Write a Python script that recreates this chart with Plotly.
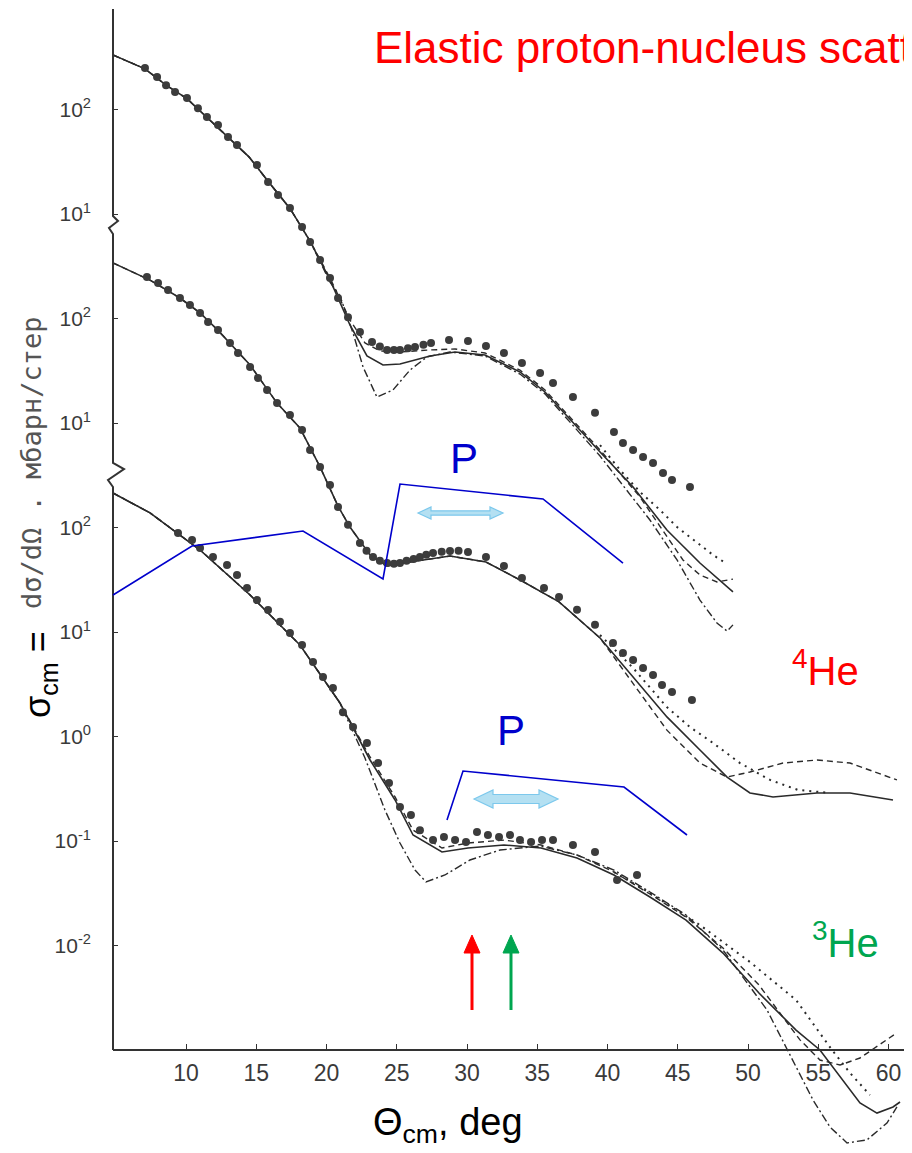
import plotly.graph_objects as go

# ---------------- data: theta_cm (deg), cross-section (mb/sr) -----------------
# three stacked sets; each is drawn shifted by a constant factor (broken axis)
TOP_SCALE = 1e4
MID_SCALE = 1e2
BOT_SCALE = 1.0

top_exp_theta = [7.08, 7.94, 8.58, 9.22, 10.07, 10.85, 11.49, 12.28, 12.99, 13.63, 15.05, 15.84, 16.55, 17.40, 18.26,
                 18.83, 19.54, 20.25, 20.82, 21.53, 22.38, 23.24, 23.80, 24.31, 24.80, 25.23, 25.80, 26.30, 26.90,
                 27.44, 28.72, 30.07, 31.35, 32.63, 33.91, 35.20, 36.12, 37.54, 39.11, 40.46, 41.10, 41.82, 42.53,
                 43.24, 43.95, 44.59, 45.87]
top_exp_sigma = [249, 205, 171, 147, 129, 103, 84.8, 71.1, 54.6, 45.7, 29.4, 20.2, 15.2, 11.4, 7.51,
                 5.40, 3.63, 2.44, 1.57, 1.03, 0.743, 0.596, 0.540, 0.500, 0.500, 0.500, 0.520, 0.533, 0.560,
                 0.583, 0.622, 0.610, 0.546, 0.468, 0.375, 0.301, 0.242, 0.177, 0.125, 0.082, 0.0644, 0.0552, 0.0473,
                 0.0414, 0.0333, 0.0285, 0.0244]

top_solid_theta = [4.80, 7.08, 8.58, 10.07, 11.49, 12.99, 14.50, 15.98, 17.40, 18.83, 20.25, 21.67, 22.88, 24.02,
                   25.23, 27.37, 29.15, 31.28, 33.77, 35.55, 37.69, 39.47, 41.82, 44.23, 46.58, 48.93]
top_solid_sigma = [333, 245, 171, 127, 84, 54, 35, 19.5, 11.3, 5.5, 2.34, 0.867, 0.438, 0.359,
                   0.367, 0.438, 0.478, 0.448, 0.308, 0.198, 0.0957, 0.0527, 0.0244, 0.00946, 0.00457, 0.00242]
top_dash_theta = [4.80, 7.08, 8.58, 10.07, 11.49, 12.99, 14.50, 15.98, 17.40, 18.83, 20.25, 21.67, 22.74, 23.81,
                  25.23, 27.37, 29.15, 31.28, 33.77, 35.55, 37.69, 39.47, 42.31, 45.37, 46.58, 47.79, 48.93]
top_dash_sigma = [333, 245, 171, 127, 84, 54, 35, 19.5, 11.3, 5.5, 2.44, 0.968, 0.583, 0.489,
                  0.478, 0.500, 0.511, 0.468, 0.321, 0.207, 0.100, 0.0552, 0.0196, 0.00489, 0.00351, 0.00301, 0.00321]
top_dashdot_theta = [4.80, 7.08, 8.58, 10.07, 11.49, 12.99, 14.50, 15.98, 17.40, 18.83, 20.25, 20.96, 21.89, 22.60,
                     23.59, 24.73, 25.94, 27.15, 28.79, 31.28, 33.77, 35.55, 37.69, 39.47, 43.02, 44.95, 46.58,
                     47.79, 48.51, 48.93]
top_dashdot_sigma = [333, 245, 171, 127, 84, 54, 35, 19.5, 11.3, 5.5, 2.23, 1.64, 0.726, 0.344,
                     0.177, 0.207, 0.321, 0.429, 0.478, 0.438, 0.294, 0.190, 0.0895, 0.0483, 0.0118, 0.00489, 0.00202,
                     0.00122, 0.00102, 0.00117]
top_dot_theta = [39.47, 40.89, 42.31, 43.74, 44.95, 46.44, 47.51, 48.51]
top_dot_sigma = [0.0615, 0.0355, 0.0219, 0.0147, 0.0101, 0.00711, 0.00546, 0.00448]

mid_exp_theta = [7.22, 8.01, 8.72, 9.57, 10.28, 11.00, 11.57, 12.28, 13.13, 13.70, 14.56, 15.12, 15.77, 16.48, 17.40,
                 18.26, 18.83, 19.54, 20.25, 20.82, 21.53, 22.38, 22.85, 23.31, 23.80, 24.31, 24.80, 25.23, 25.70,
                 26.20, 26.65, 27.10, 27.58, 28.20, 28.79, 29.40, 30.07, 31.35, 32.63, 33.91, 35.48, 36.55, 37.83,
                 39.11, 40.39, 41.10, 41.82, 42.53, 43.24, 43.88, 44.59, 46.01]
mid_exp_sigma = [250, 219, 187, 157, 135, 113, 92.7, 77.6, 58.3, 46.8, 34.4, 27.0, 20.7, 15.5, 11.9,
                 8.57, 5.52, 3.79, 2.55, 1.57, 1.06, 0.711, 0.600, 0.522, 0.480, 0.457, 0.450, 0.457, 0.480,
                 0.500, 0.522, 0.550, 0.570, 0.585, 0.596, 0.600, 0.583, 0.522, 0.429, 0.329, 0.264, 0.216, 0.163,
                 0.117, 0.0785, 0.0630, 0.0540, 0.0453, 0.0388, 0.0311, 0.0267, 0.0223]
mid_solid_theta = [4.80, 7.44, 9.57, 11.00, 12.28, 14.56, 16.48, 18.11, 19.54, 20.82, 21.67, 23.10, 24.31, 25.94,
                   28.79, 31.35, 33.91, 36.55, 39.47, 41.82, 44.23, 46.58, 48.51, 50.14, 51.78, 54.91, 57.26, 60.32]
mid_solid_sigma = [340, 233, 157, 113, 77, 35.9, 15.5, 8.96, 3.8, 1.6, 1.01, 0.546, 0.429, 0.468,
                   0.533, 0.468, 0.308, 0.194, 0.0877, 0.0371, 0.0154, 0.00743, 0.00409, 0.00288, 0.00264, 0.00288,
                   0.00288, 0.00247]
mid_dash_theta = [4.80, 7.44, 9.57, 11.00, 12.28, 14.56, 16.48, 18.11, 19.54, 20.82, 21.67, 23.10, 24.31, 25.94,
                  28.79, 31.35, 33.91, 36.55, 39.47, 41.82, 44.23, 46.58, 48.51, 50.14, 52.49, 54.91, 57.26, 60.60]
mid_dash_sigma = [340, 233, 157, 113, 77, 35.9, 15.5, 8.96, 3.8, 1.6, 1.01, 0.546, 0.429, 0.468,
                  0.533, 0.468, 0.308, 0.194, 0.0877, 0.0325, 0.0115, 0.00557, 0.00409, 0.00457, 0.00557, 0.00596,
                  0.00557, 0.00384]
mid_dot_theta = [39.47, 41.82, 44.23, 45.87, 47.51, 49.43, 51.57, 53.56, 55.84]
mid_dot_sigma = [0.0935, 0.0453, 0.0191, 0.0123, 0.00867, 0.00557, 0.00384, 0.00308, 0.00288]

bot_exp_theta = [9.43, 10.43, 11.00, 11.92, 12.92, 13.63, 14.34, 15.05, 15.84, 16.69, 17.40, 18.26, 19.04, 19.75,
                 20.46, 21.17, 21.89, 22.88, 23.67, 24.45, 25.23, 26.01, 26.65, 27.58, 28.36, 29.15, 29.93, 30.71,
                 31.49, 32.28, 33.06, 33.77, 34.56, 35.34, 36.12, 37.54, 39.11, 40.68, 42.10]
bot_exp_sigma = [88.5, 75.9, 63.7, 52.2, 43.8, 35.1, 26.4, 20.2, 16.2, 12.5, 9.77, 7.51, 5.16, 3.71,
                 2.91, 1.71, 1.23, 0.867, 0.557, 0.359, 0.211, 0.177, 0.127, 0.102, 0.109, 0.102, 0.0977, 0.122,
                 0.114, 0.109, 0.114, 0.102, 0.0977, 0.102, 0.102, 0.0916, 0.0785, 0.0424, 0.0473]
bot_solid_theta = [4.80, 7.44, 11.00, 14.56, 18.11, 20.96, 23.10, 24.88, 26.16, 28.22, 30.07, 32.63, 35.27, 37.83,
                   40.46, 43.02, 45.59, 48.22, 50.78, 53.42, 55.12, 56.76, 57.97, 59.18, 60.32, 60.82]
bot_solid_sigma = [214, 138, 60.9, 22.6, 7.51, 2.09, 0.596, 0.247, 0.114, 0.0785, 0.0857, 0.0916, 0.0857, 0.0687,
                   0.0473, 0.0291, 0.0175, 0.00847, 0.00351, 0.00155, 0.00100, 0.000516, 0.000311, 0.000249,
                   0.000285, 0.000318]
bot_dash_theta = [4.80, 7.44, 11.00, 14.56, 18.11, 20.96, 23.10, 24.88, 26.16, 28.22, 30.07, 32.63, 35.27, 37.83,
                  40.46, 43.02, 45.59, 48.22, 50.78, 52.28, 53.70, 55.12, 56.55, 57.97, 59.39, 60.60]
bot_dash_sigma = [214, 138, 60.9, 22.6, 7.51, 2.09, 0.637, 0.264, 0.127, 0.0857, 0.0957, 0.102, 0.0916, 0.0734,
                  0.0505, 0.0311, 0.0187, 0.00946, 0.00419, 0.00226, 0.00125, 0.000802, 0.000718, 0.000838,
                  0.00112, 0.00146]
bot_dashdot_theta = [4.80, 7.44, 11.00, 14.56, 18.11, 20.96, 22.74, 24.16, 25.23, 26.30, 27.08, 28.43, 30.21, 32.35,
                     35.20, 37.83, 40.46, 43.02, 45.59, 48.22, 51.35, 53.20, 54.63, 55.84, 57.05, 58.47, 59.89, 60.60]
bot_dashdot_sigma = [214, 138, 60.9, 22.6, 7.51, 2.09, 0.622, 0.198, 0.0957, 0.0527, 0.0406, 0.0473, 0.0658, 0.0820,
                     0.0895, 0.0734, 0.0527, 0.0325, 0.0196, 0.00906, 0.00242, 0.000802, 0.000332, 0.000183,
                     0.000129, 0.000138, 0.000200, 0.000285]
bot_dot_theta = [40.46, 43.02, 46.58, 50.14, 53.42, 55.98, 57.26, 58.68]
bot_dot_sigma = [0.0505, 0.0318, 0.0157, 0.00695, 0.00301, 0.00100, 0.000603, 0.000371]

x_tick_vals = [10, 15, 20, 25, 30, 35, 40, 45, 50, 55, 60]
y_tick_vals = [1e-2, 1e-1, 1e0, 1e1, 1e2, 1e3, 1e4, 1e5, 1e6]
y_tick_text = ["10<sup>-2</sup>", "10<sup>-1</sup>", "10<sup>0</sup>", "10<sup>1</sup>", "10<sup>2</sup>",
               "10<sup>1</sup>", "10<sup>2</sup>", "10<sup>1</sup>", "10<sup>2</sup>"]

# ---------------- geometry (page body has an 8px margin) ----------------
OFF = 8
W, H = 912 - OFF, 1153 - OFF
ML = 113 - OFF
PW = W - ML
DEG_PX = 14.05
DEC_PX = 104.5
X0 = 10 - 73 / DEG_PX
X1 = X0 + PW / DEG_PX
Y_RANGE = [-3 - (1153 - 1050) / DEC_PX, -3 + (1050 - OFF) / DEC_PX]


def px(x):
    return (x - OFF - ML) / PW


def py(y):
    return 1 - (y - OFF) / H


INK = "#2a2a2a"
DOT = "#3c3c3c"

fig = go.Figure()


def add_line(theta, sigma, scale, dash, width=1.5):
    fig.add_trace(go.Scatter(x=theta, y=[s * scale for s in sigma], mode="lines",
                             line=dict(color=INK, width=width, dash=dash),
                             hoverinfo="skip", showlegend=False))


def add_pts(theta, sigma, scale, size=8):
    fig.add_trace(go.Scatter(x=theta, y=[s * scale for s in sigma], mode="markers",
                             marker=dict(color=DOT, size=size, line=dict(width=0)),
                             hoverinfo="skip", showlegend=False))


DASH = "6px,4px"
DASHDOT = "8px,3px,2px,3px"
DOTTED = "2px,5px"

for sc, solid, dash, dashdot, dot, exp in [
    (TOP_SCALE, (top_solid_theta, top_solid_sigma), (top_dash_theta, top_dash_sigma),
     (top_dashdot_theta, top_dashdot_sigma), (top_dot_theta, top_dot_sigma), (top_exp_theta, top_exp_sigma)),
    (MID_SCALE, (mid_solid_theta, mid_solid_sigma), (mid_dash_theta, mid_dash_sigma),
     None, (mid_dot_theta, mid_dot_sigma), (mid_exp_theta, mid_exp_sigma)),
    (BOT_SCALE, (bot_solid_theta, bot_solid_sigma), (bot_dash_theta, bot_dash_sigma),
     (bot_dashdot_theta, bot_dashdot_sigma), (bot_dot_theta, bot_dot_sigma), (bot_exp_theta, bot_exp_sigma)),
]:
    add_line(*solid, sc, "solid", 1.6)
    add_line(*dash, sc, DASH, 1.4)
    if dashdot:
        add_line(*dashdot, sc, DASHDOT, 1.4)
    add_line(*dot, sc, DOTTED, 2.0)
    add_pts(*exp, sc, 8)

# ---------------- decorations ----------------
shapes = []


def poly(points, color, width, close=False, fill=None):
    d = "M " + " L ".join(f"{px(x):.5f},{py(y):.5f}" for x, y in points)
    if close:
        d += " Z"
    s = dict(type="path", path=d, xref="paper", yref="paper", line=dict(color=color, width=width))
    if fill:
        s["fillcolor"] = fill
    shapes.append(s)


# broken y axis
poly([(113, 9), (113, 216), (118, 221), (109, 228), (113, 234), (113, 463), (124, 469), (108, 480),
      (113, 487), (113, 1050)], "#333333", 2)

# blue polylines
poly([(113, 595), (192, 546), (303, 531), (383, 579), (400, 484), (543, 499), (623, 563)], "#0000cc", 1.6)
poly([(447, 820), (463, 771), (624, 787), (687, 835)], "#0000cc", 1.6)


def block_arrow(xl, xr, yc, sh, hh, hl):
    pts = [(xl, yc), (xl + hl, yc - hh), (xl + hl, yc - sh), (xr - hl, yc - sh), (xr - hl, yc - hh), (xr, yc),
           (xr - hl, yc + hh), (xr - hl, yc + sh), (xl + hl, yc + sh), (xl + hl, yc + hh)]
    poly(pts, "#7cc8ec", 1.2, close=True, fill="#b4e0f2")


block_arrow(418, 503, 513, 2.2, 6, 13)
block_arrow(474, 558, 799, 4.5, 9, 19)


def up_arrow(x, color):
    poly([(x, 1010), (x, 950)], color, 3)
    poly([(x - 8, 953), (x + 8, 953), (x, 935)], color, 1, close=True, fill=color)


up_arrow(472, "#ff0000")
up_arrow(511, "#00a650")

FONT = "Liberation Sans"
annotations = [
    dict(x=px(372), y=py(47), text="Elastic proton-nucleus scatt", xanchor="left", yanchor="middle",
         font=dict(size=44, color="#ff0000", family=FONT)),
    dict(x=px(464), y=py(458), text="P", font=dict(size=42, color="#0000cc", family=FONT)),
    dict(x=px(511), y=py(730), text="P", font=dict(size=42, color="#0000cc", family=FONT)),
    dict(x=px(825), y=py(668), text="<sup>4</sup>He", font=dict(size=40, color="#ff0000", family=FONT)),
    dict(x=px(845), y=py(940), text="<sup>3</sup>He", font=dict(size=40, color="#00a650", family=FONT)),
    dict(x=px(448), y=py(1125), text="\u0398<sub>cm</sub>, deg", font=dict(size=38, color="#000000", family=FONT)),
    dict(x=px(40), y=py(675), text="\u03c3<sub>cm</sub> =", textangle=-90,
         font=dict(size=36, color="#000000", family=FONT)),
    dict(x=px(32), y=py(463), text="d\u03c3/d\u03a9 . \u043c\u0431\u0430\u0440\u043d/\u0441\u0442\u0435\u0440",
         textangle=-90, font=dict(size=27, color="#555555", family="DejaVu Sans Mono")),
]
for a in annotations:
    a.setdefault("xanchor", "center")
    a.setdefault("yanchor", "middle")
    a.update(xref="paper", yref="paper", showarrow=False)

fig.update_layout(
    width=W, height=H,
    margin=dict(l=ML, r=0, t=0, b=0, pad=0),
    paper_bgcolor="white", plot_bgcolor="white",
    showlegend=False,
    shapes=shapes,
    annotations=annotations,
    xaxis=dict(range=[X0, X1], anchor="free", position=py(1050), showline=True, linecolor="#333333",
               linewidth=2, ticks="inside", ticklen=5, tickcolor="#333333", tickvals=x_tick_vals,
               showgrid=False, zeroline=False, ticklabelstandoff=2,
               tickfont=dict(size=23, color="#3a3a3a", family=FONT)),
    yaxis=dict(type="log", range=Y_RANGE, domain=[0, 1], showline=False, ticks="inside", ticklen=5,
               tickcolor="#333333", tickvals=y_tick_vals, ticktext=y_tick_text, showgrid=False,
               zeroline=False, ticklabelstandoff=21,
               tickfont=dict(size=21, color="#3a3a3a", family=FONT)),
)

fig.write_html("out.html")
